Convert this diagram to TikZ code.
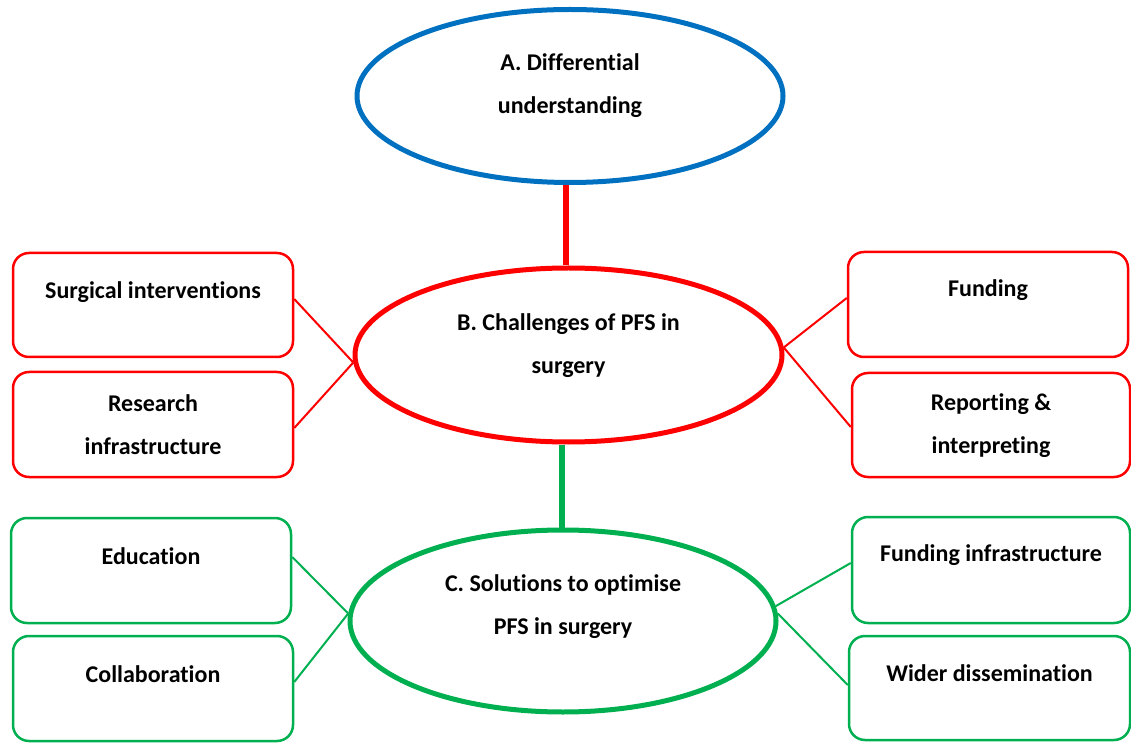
\documentclass[tikz,border=0pt]{standalone}
\usepackage{fontspec}
\setmainfont{Carlito}[Ligatures=CommonOff]
\usetikzlibrary{shapes.geometric,calc}
\definecolor{ablue}{RGB}{0,112,192}
\definecolor{bred}{RGB}{255,0,0}
\definecolor{cgreen}{RGB}{0,176,80}
\begin{document}
\begin{tikzpicture}[x=1pt,y=1pt,
  oval/.style={ellipse, draw, line width=5pt, inner sep=0pt},
  tbox/.style={rectangle, rounded corners=16pt, draw, line width=2.5pt, inner sep=0pt},
  lbl/.style={font=\bfseries\fontsize{24}{43}\selectfont, align=center, inner sep=0pt},
  spoke/.style={line width=2pt},
  stem/.style={line width=6pt}]
\useasboundingbox (0,0) rectangle (1131,742);

% central ovals
\node[oval, ablue, minimum width=426, minimum height=173] (A) at (570,646) {};
\node[oval, bred, minimum width=427, minimum height=174] (B) at (568.5,387) {};
\node[oval, cgreen, minimum width=426, minimum height=182] (C) at (563,121) {};
\node[lbl] (At) at ([yshift=10]A.center) {A. Differential\\understanding};
\node[lbl] (Bt) at ([yshift=9.5]B.center) {B. Challenges of PFS in\\surgery};
\node[lbl] (Ct) at ([yshift=14.5]C.center) {C. Solutions to optimise\\PFS in surgery};

% stems between the ovals
\draw[stem, bred] ($(A.south)+(-4,0)$) -- ($(B.north)+(-2.5,0)$);
\draw[stem, cgreen] ($(B.south)+(-6.5,0)$) -- ($(C.north)+(-1,0)$);

% challenge boxes
\node[tbox, bred, minimum width=280, minimum height=104] (s1) at (153,437) {};
\node[tbox, bred, minimum width=280, minimum height=105] (s2) at (153,317.5) {};
\node[tbox, bred, minimum width=280, minimum height=105] (s3) at (988,437.5) {};
\node[tbox, bred, minimum width=278, minimum height=104] (s4) at (991,317) {};
\node[lbl] (s1t) at ([yshift=13]s1.center) {Surgical interventions};
\node[lbl] (s2t) at (s2.center) {Research\\infrastructure};
\node[lbl] (s3t) at ([yshift=14]s3.center) {Funding};
\node[lbl] (s4t) at ([yshift=-1]s4.center) {Reporting \&\\interpreting};

% solution boxes
\node[tbox, cgreen, minimum width=280, minimum height=105] (g1) at (151,171.5) {};
\node[tbox, cgreen, minimum width=280, minimum height=105] (g2) at (153,53.5) {};
\node[tbox, cgreen, minimum width=278, minimum height=106] (g3) at (991,172) {};
\node[tbox, cgreen, minimum width=281, minimum height=104] (g4) at (989.5,54) {};
\node[lbl] (g1t) at ([yshift=14.5]g1.center) {Education};
\node[lbl] (g2t) at ([yshift=14.5]g2.center) {Collaboration};
\node[lbl] (g3t) at ([yshift=15]g3.center) {Funding infrastructure};
\node[lbl] (g4t) at ([yshift=15]g4.center) {Wider dissemination};

% spokes
\draw[spoke, bred] ([yshift=6]s1.east) -- (B.182);
\draw[spoke, bred] ([yshift=-3.5]s2.east) -- (B.182);
\draw[spoke, bred] ([yshift=6.5]s3.west) -- (B.2);
\draw[spoke, bred] ([yshift=-2]s4.west) -- (B.2);
\draw[spoke, cgreen] ([yshift=13.5]g1.east) -- (C.178);
\draw[spoke, cgreen] ([yshift=6.5]g2.east) -- (C.178);
\draw[spoke, cgreen] ([yshift=7]g3.west) -- (C.4);
\draw[spoke, cgreen] ([yshift=3]g4.west) -- (C.2);
\end{tikzpicture}
\end{document}
